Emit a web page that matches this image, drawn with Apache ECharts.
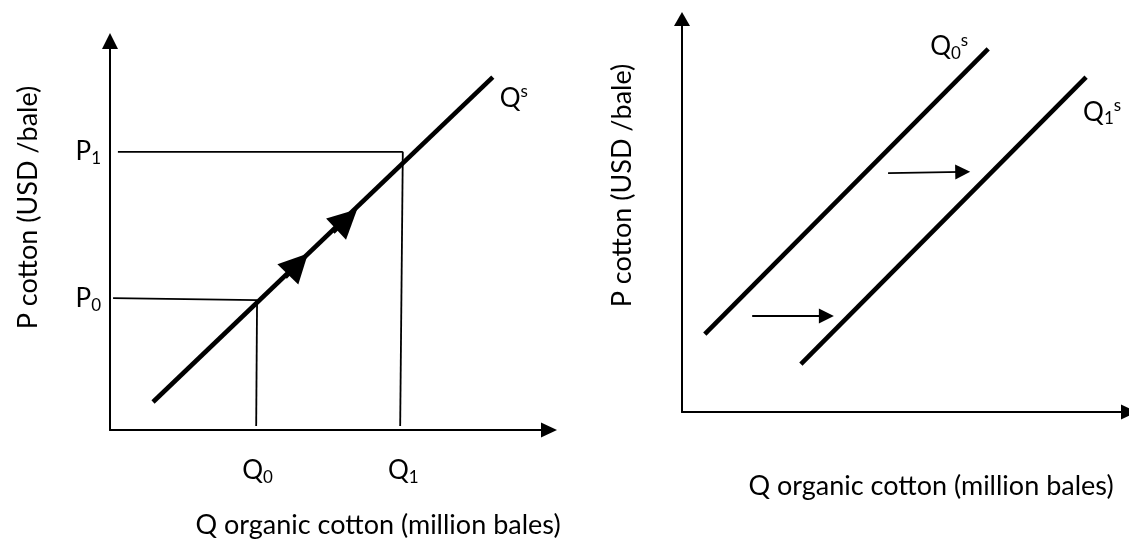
<!DOCTYPE html>
<html><head><meta charset="utf-8">
<script src="https://cdn.jsdelivr.net/npm/echarts@6/dist/echarts.min.js"></script>
<style>html,body{margin:0;padding:0;background:#fff}#c{width:1129px;height:545px}</style>
</head><body><div id="c"></div>
<script>
// ---------- data (schematic units, axes run 0..10) ----------
// Left panel: movement along the supply curve
const supplyCurve = [[0.98, 0.72], [8.72, 9.07]];
const priceTicks = [3.37, 7.15];            // P0, P1
const priceTickSubs = ['0', '1'];
const quantityTicks = [3.36, 6.68];         // Q0, Q1
const quantityTickSubs = ['0', '1'];
const p0Guide = [[0.07, 3.39], [3.35, 3.34]];
const q0Guide = [[3.35, 3.34], [3.33, 0.10]];
const p1Guide = [[0.18, 7.15], [6.67, 7.15]];
const q1Guide = [[6.67, 7.15], [6.61, 0.10]];
const alongArrows = [
  [[3.99, 3.93], [4.28, 4.27]],
  [[5.08, 5.09], [5.39, 5.42]]
];
// Right panel: shift of the supply curve
const supplyQ0 = [[0.51, 1.98], [6.85, 9.24]];
const supplyQ1 = [[2.66, 1.22], [9.04, 8.52]];
const shiftArrows = [
  [[1.57, 2.44], [3.23, 2.44]],
  [[4.61, 6.08], [6.28, 6.11]]
];
const yTitle = 'P cotton (USD /bale)';
const xTitle = 'Q organic cotton (million bales)';

// ---------- chart ----------
const FONT = 'Lato';
const rich = {
  m: { fontSize: 26, fontFamily: FONT, color: '#000', lineHeight: 30 },
  s: { fontSize: 17, fontFamily: FONT, color: '#000', lineHeight: 17, verticalAlign: 'bottom' },
  u: { fontSize: 17, fontFamily: FONT, color: '#000', lineHeight: 15, verticalAlign: 'top' }
};
function nearestIdx(arr, v) {
  let best = 0;
  arr.forEach((a, i) => { if (Math.abs(a - v) < Math.abs(arr[best] - v)) best = i; });
  return best;
}
const titleStyle = { fontSize: 27, fontFamily: FONT, color: '#000' };
const axisLineStyle = { color: '#000', width: 2 };

function baseAxis(extra) {
  return Object.assign({
    type: 'value', min: 0, max: 10,
    axisTick: { show: false }, splitLine: { show: false },
    nameLocation: 'middle'
  }, extra);
}

const chart = echarts.init(document.getElementById('c'), null, { renderer: 'canvas' });
const thin = { color: '#000', width: 1.8 };
const thick = { color: '#000', width: 4.6 };
function seg(data, style, xi, extra) {
  return Object.assign({
    type: 'line', xAxisIndex: xi, yAxisIndex: xi, data: data,
    showSymbol: false, symbol: 'none', lineStyle: style, clip: false, silent: true
  }, extra || {});
}

chart.setOption({
  animation: false,
  textStyle: { fontFamily: FONT, color: '#000' },
  grid: [
    { left: 110, top: 41, width: 439, height: 389 },
    { left: 682, top: 19, width: 447, height: 393 }
  ],
  xAxis: [
    baseAxis({
      gridIndex: 0,
      axisLine: { show: true, onZero: false, symbol: ['none', 'triangle'], symbolSize: [15, 16], lineStyle: axisLineStyle },
      axisLabel: {
        show: true, customValues: quantityTicks, margin: 26,
        formatter: v => '{m|Q}{s|' + quantityTickSubs[nearestIdx(quantityTicks, v)] + '}', rich: rich
      },
      name: xTitle, nameGap: 82, nameTextStyle: Object.assign({ padding: [0, 0, 0, 97] }, titleStyle)
    }),
    baseAxis({
      gridIndex: 1,
      axisLine: { show: true, onZero: false, symbol: ['none', 'triangle'], symbolSize: [15, 16], lineStyle: axisLineStyle },
      axisLabel: { show: false },
      name: xTitle, nameGap: 61, nameTextStyle: Object.assign({ padding: [0, 0, 0, 51] }, titleStyle)
    })
  ],
  yAxis: [
    baseAxis({
      gridIndex: 0,
      axisLine: { show: true, onZero: false, symbol: ['none', 'triangle'], symbolSize: [16, 16], lineStyle: axisLineStyle },
      axisLabel: {
        show: true, customValues: priceTicks, margin: 9,
        formatter: v => '{m|P}{s|' + priceTickSubs[nearestIdx(priceTicks, v)] + '}', rich: rich
      },
      name: yTitle, nameGap: 68, nameTextStyle: Object.assign({ padding: [0, 0, 0, 56] }, titleStyle)
    }),
    baseAxis({
      gridIndex: 1,
      axisLine: { show: true, onZero: false, symbol: ['none', 'triangle'], symbolSize: [16, 14], lineStyle: axisLineStyle },
      axisLabel: { show: false },
      name: yTitle, nameGap: 46, nameTextStyle: Object.assign({ padding: [0, 0, 0, 60] }, titleStyle)
    })
  ],
  series: [
    seg(p1Guide, thin, 0),
    seg(q1Guide, thin, 0),
    seg(p0Guide, thin, 0),
    seg(q0Guide, thin, 0),
    seg(supplyCurve, thick, 0, {
      endLabel: { show: true, distance: 7, offset: [0, 21], formatter: '{m|Q}{u|s}', rich: rich }
    }),
    {
      type: 'lines', coordinateSystem: 'cartesian2d', xAxisIndex: 0, yAxisIndex: 0, silent: true,
      symbol: ['none', 'triangle'], symbolSize: 29,
      lineStyle: { color: '#000', width: 4.6, opacity: 1 },
      data: alongArrows.map(c => ({ coords: c }))
    },
    seg(supplyQ0, thick, 1, {
      endLabel: { show: true, align: 'right', distance: 0, offset: [-20, -2], formatter: '{m|Q}{s|0}{u|s}', rich: rich }
    }),
    seg(supplyQ1, thick, 1, {
      endLabel: { show: true, align: 'left', distance: 0, offset: [-3, 35], formatter: '{m|Q}{s|1}{u|s}', rich: rich }
    }),
    {
      type: 'lines', coordinateSystem: 'cartesian2d', xAxisIndex: 1, yAxisIndex: 1, silent: true,
      symbol: ['none', 'triangle'], symbolSize: 15,
      lineStyle: { color: '#000', width: 1.8, opacity: 1 },
      data: shiftArrows.map(c => ({ coords: c }))
    }
  ]
});
</script></body></html>
